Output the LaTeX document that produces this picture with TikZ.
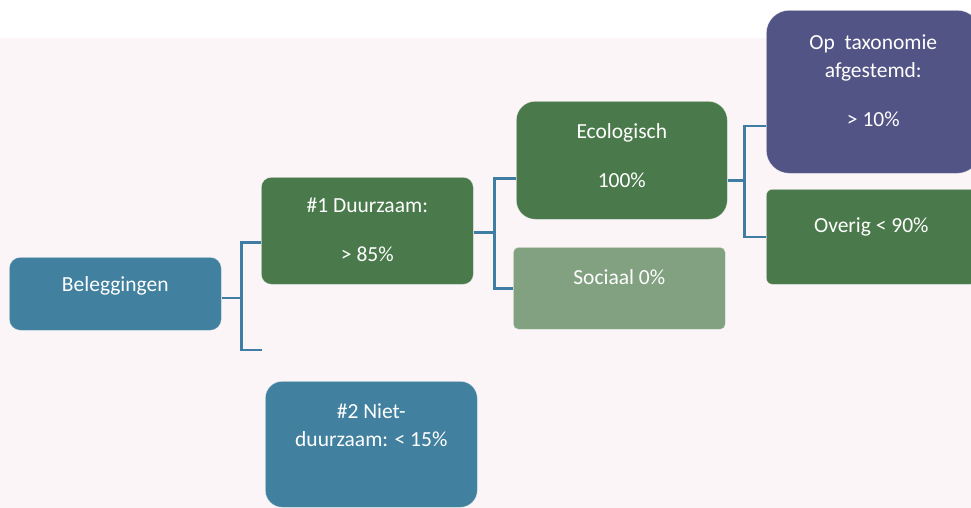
\documentclass[tikz,border=0pt]{standalone}
\usepackage{fontspec}
\setmainfont{Carlito}
\usepackage{tikz}

\definecolor{achtergrond}{HTML}{FBF5F7}
\definecolor{blauwvak}{HTML}{41809F}
\definecolor{groenvak}{HTML}{4A7A4B}
\definecolor{lichtgroen}{HTML}{82A181}
\definecolor{paarsvak}{HTML}{535486}
\definecolor{lijnblauw}{HTML}{3F7DA5}

\begin{document}
\begin{tikzpicture}[x=1pt, y=-1pt,
		vak/.style={anchor=north west, inner sep=0pt, align=flush center, text=white, draw=white, draw opacity=0.5, line width=0.6pt, font=\fontsize{21.5}{28}\selectfont},
		tak/.style={draw=lijnblauw, line width=2.4pt}]
		\useasboundingbox (0,0) rectangle (971,508);
		\clip (0,0) rectangle (971,508);
		\fill[achtergrond] (0,38) rectangle (971,508);
		
		\node[vak, fill=blauwvak, rounded corners=11pt, text width=212pt, text height=34pt, text depth=39pt]	(bel) at (9,257)	{Beleggingen};
		\node[vak, fill=groenvak, rounded corners=10pt, text width=212pt, text height=35pt, text depth=72pt]	(duur) at (261,177)	{\#1 Duurzaam:\\[21pt]> 85\%};
		\node[vak, fill=blauwvak, rounded corners=17pt, text width=212pt, text height=37pt, text depth=89pt]	(niet) at (265,381)	{\#2 Niet-\\duurzaam: < 15\%};
		\node[vak, fill=groenvak, rounded corners=19pt, text width=211pt, text height=37pt, text depth=81pt]	(ecol) at (516,101)	{Ecologisch\\[21pt]100\%};
		\node[vak, fill=lichtgroen, rounded corners=5pt, text width=212pt, text height=37pt, text depth=45pt]	(soc) at (513,247)	{Sociaal 0\%};
		\node[vak, fill=paarsvak, rounded corners=23pt, text width=214pt, text height=39pt, text depth=124pt]	(tax) at (766,10)	{Op\ \ taxonomie\\afgestemd:\\[21pt]> 10\%};
		\node[vak, fill=groenvak, rounded corners=6pt, text width=210pt, text height=43pt, text depth=52pt]	(ov) at (766,189)	{Overig < 90\%};
		\coordinate (los) at (262,350);
		
		\draw[tak] ([yshift=-4pt]bel.east) -- ++(20,0) |- ([yshift=-11.5pt]duur.west);
		\draw[tak] ([yshift=-4pt]bel.east) -- ++(20,0) |- (los);
		\draw[tak] ([yshift=-1.5pt]duur.east) -- ++(21,0) |- ([yshift=-18pt]ecol.west);
		\draw[tak] ([yshift=-1.5pt]duur.east) -- ++(21,0) |- (soc.west);
		\draw[tak] ([yshift=-20pt]ecol.east) -- ++(17,0) |- ([yshift=-34.5pt]tax.west);
		\draw[tak] ([yshift=-20pt]ecol.east) -- ++(17,0) |- (ov.west);
		
\end{tikzpicture}
\end{document}
